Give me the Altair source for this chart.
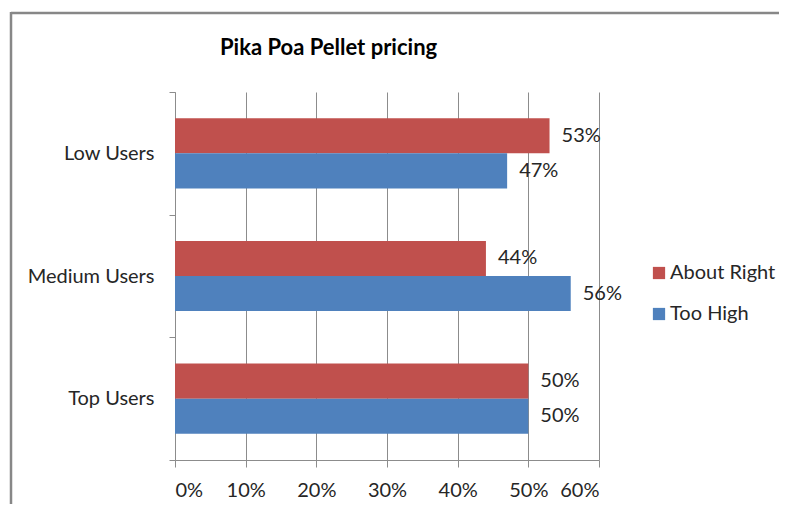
import altair as alt
import pandas as pd

categories = ["Low Users", "Medium Users", "Top Users"]
series = ["About Right", "Too High"]
about_right = [0.53, 0.44, 0.50]
too_high = [0.47, 0.56, 0.50]
colors = ["#C0504D", "#4F81BD"]
x_ticks = [0, 0.1, 0.2, 0.3, 0.4, 0.5, 0.6]
title_text = "Pika Poa Pellet pricing"

rows = []
for c, a, t in zip(categories, about_right, too_high):
    rows.append({"category": c, "series": series[0], "value": a})
    rows.append({"category": c, "series": series[1], "value": t})
df = pd.DataFrame(rows)

FONT = "Lato"
FS = 20
TXT = "#262626"
GRID = "#8c8c8c"

base = alt.Chart(df).encode(
    y=alt.Y("category:N", sort=categories, title=None,
            scale=alt.Scale(paddingInner=0, paddingOuter=0),
            axis=alt.Axis(tickBand="extent", tickSize=6, tickColor=GRID,
                          domainColor=GRID, labelPadding=15, labelFontSize=FS,
                          labelFont=FONT, labelColor=TXT)),
    yOffset=alt.YOffset("series:N", sort=series,
                        scale=alt.Scale(paddingInner=0, paddingOuter=0.75)),
    x=alt.X("value:Q", title=None,
            scale=alt.Scale(domain=[0, 0.6], nice=False),
            axis=alt.Axis(values=x_ticks, format=".0%", grid=True, gridColor=GRID,
                          tickColor=GRID, domainColor=GRID, tickSize=7,
                          labelPadding=13, labelFontSize=FS, labelFont=FONT,
                          labelColor=TXT)),
)

bars = base.mark_bar().encode(
    color=alt.Color("series:N", sort=series,
                    scale=alt.Scale(domain=series, range=colors),
                    legend=alt.Legend(title=None, orient="none", legendX=474,
                                      legendY=171, symbolType="square",
                                      symbolSize=150, symbolStrokeWidth=0,
                                      labelFontSize=FS, labelFont=FONT,
                                      labelColor=TXT, rowPadding=21,
                                      labelOffset=1))
)

labels = base.mark_text(align="left", dx=12, fontSize=FS, font=FONT, color=TXT).encode(
    text=alt.Text("value:Q", format=".0%")
)

frame_df = pd.DataFrame({"k": [0]})
frame_top = alt.Chart(frame_df).mark_rule(stroke="#878787", strokeWidth=2.5).encode(
    x=alt.value(-164), x2=alt.value(620), y=alt.value(-79)
)
frame_left = alt.Chart(frame_df).mark_rule(stroke="#878787", strokeWidth=2.5).encode(
    x=alt.value(-164), y=alt.value(-80), y2=alt.value(460)
)

title = alt.Chart(pd.DataFrame({"t": [title_text]})).mark_text(
    align="left", baseline="middle", fontSize=22, font=FONT, fontWeight="bold",
    color="#000000"
).encode(
    text="t:N", x=alt.value(45), y=alt.value(-44)
)

chart = alt.layer(frame_top, frame_left, bars, labels, title).properties(
    width=424, height=368,
    autosize=alt.AutoSizeParams(type="none"),
    padding={"left": 167, "top": 84, "right": 180, "bottom": 44},
).configure_view(stroke=None)

chart.save("out.html", embed_options={"renderer": "svg", "actions": False})
